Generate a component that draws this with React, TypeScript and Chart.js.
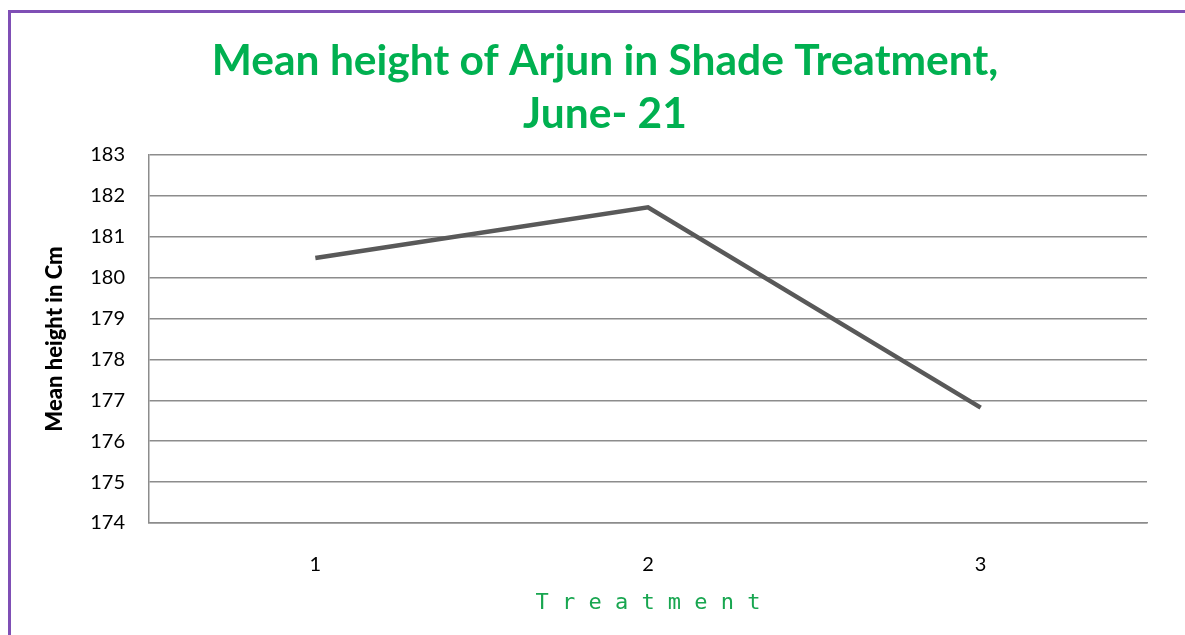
import React, { useEffect, useRef } from "react";
import { Chart, registerables } from "chart.js";

Chart.register(...registerables);

const categories = ["1", "2", "3"];
const meanHeights = [180.48, 181.72, 176.82];
const yMin = 174;
const yMax = 183;
const titleLines = ["Mean height of Arjun in Shade Treatment,", "June- 21"];
const yAxisTitle = "Mean height in Cm";
const xAxisTitle = "T r e a t m e n t";

export default function App() {
  const ref = useRef<HTMLCanvasElement | null>(null);
  useEffect(() => {
    if (!ref.current) return;
    const chart = new Chart(ref.current, {
      type: "line",
      data: {
        labels: categories,
        datasets: [
          {
            data: meanHeights,
            borderColor: "#595959",
            borderWidth: 4.5,
            pointRadius: 0,
            tension: 0,
            fill: false,
          },
        ],
      },
      options: {
        animation: false,
        responsive: true,
        maintainAspectRatio: false,
        layout: { padding: { left: 15, right: 0, top: 0, bottom: 0 } },
        plugins: {
          legend: { display: false },
          tooltip: { enabled: false },
          title: {
            display: true,
            text: titleLines,
            color: "#00B050",
            font: { family: "Lato", size: 42.5, weight: "bold", lineHeight: 1.247 },
            padding: { top: 23, bottom: 14 },
          },
        },
        scales: {
          x: {
            offset: true,
            grid: { display: false, drawTicks: false },
            border: { display: true, color: "#8c8c8c", width: 1.5 },
            ticks: { color: "#000", font: { family: "Lato", size: 20 }, padding: 30 },
            title: {
              display: true,
              text: xAxisTitle,
              color: "#18a650",
              font: { family: "DejaVu Sans Mono", size: 22 },
              padding: { top: 0, bottom: 19 },
            },
            afterFit: (s: any) => {
              s.height = 112;
            },
          },
          y: {
            min: yMin,
            max: yMax,
            ticks: { stepSize: 1, color: "#000", font: { family: "Lato", size: 20 }, padding: 24 },
            grid: { color: "#8c8c8c", lineWidth: 1.5, drawTicks: false },
            border: { display: true, color: "#8c8c8c", width: 1.5 },
            title: {
              display: true,
              text: yAxisTitle,
              color: "#000",
              font: { family: "Lato", size: 22, weight: "900" },
              padding: { top: 17, bottom: 0 },
            },
            afterFit: (s: any) => {
              s.width = 124;
            },
          },
          yRight: {
            position: "right",
            min: yMin,
            max: yMax,
            grid: { display: false, drawTicks: false },
            border: { display: false },
            ticks: { display: false },
            afterFit: (s: any) => {
              s.width = 38;
            },
          },
        },
      },
    });
    return () => chart.destroy();
  }, []);
  return (
    <>
      <div
        style={{
          position: "fixed",
          left: 8,
          top: 10,
          right: 0,
          bottom: 0,
          borderLeft: "3px solid #7f4fb5",
          borderTop: "3px solid #7f4fb5",
          background: "#fff",
        }}
      />
      <div style={{ position: "fixed", left: 10, top: 12, width: 1175, height: 623 }}>
        <canvas ref={ref} />
      </div>
    </>
  );
}
